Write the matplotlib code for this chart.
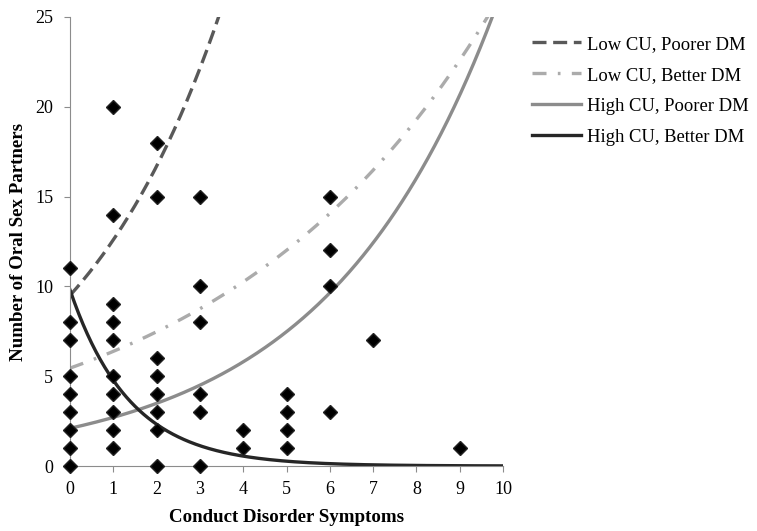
import numpy as np
import matplotlib
matplotlib.use('Agg')
from matplotlib import pyplot as plt

# observed data: conduct disorder symptoms vs number of partners
cd_symptoms = [0, 0, 0, 0, 0, 0, 0, 0, 0,
               1, 1, 1, 1, 1, 1, 1, 1, 1, 1,
               2, 2, 2, 2, 2, 2, 2, 2,
               3, 3, 3, 3, 3, 3,
               4, 4,
               5, 5, 5, 5,
               6, 6, 6, 6,
               7,
               9]
partners = [0, 1, 2, 3, 4, 5, 7, 8, 11,
            1, 2, 3, 4, 5, 7, 8, 9, 14, 20,
            0, 2, 3, 4, 5, 6, 15, 18,
            0, 3, 4, 8, 10, 15,
            1, 2,
            1, 2, 3, 4,
            3, 10, 12, 15,
            7,
            1]

# fitted curves: intercept and growth rate (y = a * exp(b * x))
curve_labels = ['Low CU, Poorer DM', 'Low CU, Better DM',
                'High CU, Poorer DM', 'High CU, Better DM']
curve_intercepts = [9.5, 5.45, 2.1, 9.8]
curve_rates = [0.282, 0.158, 0.254, -0.72]

plt.rcParams['font.family'] = ['Liberation Serif', 'DejaVu Serif']

fig = plt.figure(figsize=(7.57, 5.31), dpi=100)
ax = fig.add_axes([0.0925, 0.1224, 0.572, 0.8456])

xs = np.linspace(0, 10, 400)
styles = [
    dict(color='#595959', dashes=(4.2, 2.0)),
    dict(color='#ababab', dashes=(4.2, 3.4, 0.8, 3.4)),
    dict(color='#8c8c8c'),
    dict(color='#262626'),
]
handles = []
for lab, a, b, st in zip(curve_labels, curve_intercepts, curve_rates, styles):
    h, = ax.plot(xs, a * np.exp(b * xs), lw=2.4, label=lab, **st)
    handles.append(h)

ax.plot(cd_symptoms, partners, 'D', color='black', markersize=6.8,
        markeredgecolor='#222222', clip_on=False, zorder=5)

ax.set_xlim(0, 10)
ax.set_ylim(0, 25)
ax.set_xticks(range(0, 11))
ax.set_yticks(range(0, 26, 5))
for s in ['top', 'right']:
    ax.spines[s].set_visible(False)
for s in ['left', 'bottom']:
    ax.spines[s].set_color('#8c8c8c')
ax.tick_params(colors='#8c8c8c', labelcolor='black', labelsize=13, length=4)
ax.tick_params(axis='x', pad=7)
ax.tick_params(axis='y', pad=8)

ax.set_xlabel('Conduct Disorder Symptoms', fontsize=13.6, fontweight='bold', labelpad=8)
ax.set_ylabel('Number of Oral Sex Partners', fontsize=13.6, fontweight='bold', labelpad=6)

fig.legend(handles=handles, loc='upper left', bbox_to_anchor=(0.681, 0.964),
           frameon=False, fontsize=13.4, handlelength=2.6, handletextpad=0.32,
           labelspacing=0.75)

fig.savefig('out.png', dpi=100)
